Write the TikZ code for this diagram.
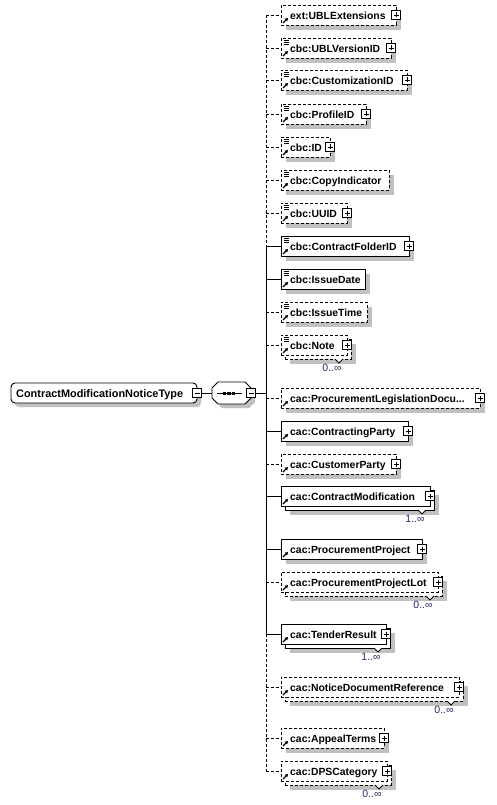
\documentclass[tikz,border=0pt]{standalone}
\usepackage{fontspec}
\setmainfont{Liberation Sans}
\usetikzlibrary{arrows.meta}
\definecolor{shadowgrey}{RGB}{192,192,192}
\definecolor{occblue}{RGB}{40,40,100}
\tikzset{
  boxst/.style={draw=black, fill=white, line width=0.9pt, inner sep=0pt, minimum height=20pt, anchor=west},
  dashst/.style={dash pattern=on 3pt off 2pt},
  conn/.style={draw=black, line width=0.9pt},
  lbl/.style={inner sep=0pt, font=\fontsize{10.4}{12}\selectfont\bfseries},
  occ/.style={inner sep=0pt, text=occblue, font=\fontsize{10.5}{12}\selectfont},
  pmbox/.style={draw=black, fill=white, line width=0.8pt, inner sep=0pt, minimum size=9pt},
  shd/.style={fill=shadowgrey},
  iconst/.style={line width=0.7pt},
  refarrow/.style={line width=1.1pt, -{Triangle[length=3pt,width=3.5pt]}},
  cur/.style={}
}
\begin{document}
\begin{tikzpicture}[x=1pt, y=-1pt]
\useasboundingbox (0,0) rectangle (497,805);

% root
\fill[shd, rounded corners=4pt] (15,387) rectangle (201,407);
\node[boxst, rounded corners=4pt, minimum width=186pt, anchor=center] (root) at (104,393) {};
\node[lbl, anchor=base west, font=\fontsize{10.9}{12}\selectfont\bfseries] (roottxt) at (16,397) {ContractModificationNoticeType};
\node[pmbox] (rm) at (197,393) {};
\draw[line width=0.8pt] (194.5,393) -- (199.5,393);

% sequence compositor
\fill[shd] (222,386) -- (249,386) -- (255,392) -- (255,402) -- (249,408) -- (222,408) -- (216,402) -- (216,392) -- cycle;
\node[minimum width=39pt, minimum height=22pt, inner sep=0pt] (seq) at (231.5,393) {};
\draw[line width=0.9pt, fill=white] (218,382) -- (245,382) -- (251,388) -- (251,398) -- (245,404) -- (218,404) -- (212,398) -- (212,388) -- cycle;
\draw[line width=0.9pt] (216.5,393) -- (241.5,393);
\fill (222.7,391.5) rectangle (226.3,394.5);
\fill (227.2,391.5) rectangle (230.8,394.5);
\fill (231.7,391.5) rectangle (235.3,394.5);
\node[pmbox] (sm) at (251,393) {};
\draw[line width=0.8pt] (248.5,393) -- (253.5,393);
\draw[conn] (rm.east) -- (seq.west);
\coordinate (sj) at (266,393);
\draw[conn] (sm.east) -- (sj);

% children
\foreach \n/\cy/\rx/\txt/\ds/\mul/\ic/\pl/\oc in {
 1/15/396/ext:UBLExtensions/1/0/0/1/-,
 2/48/391/cbc:UBLVersionID/1/0/1/1/-,
 3/80/407/cbc:CustomizationID/1/0/1/1/-,
 4/114/366/cbc:ProfileID/1/0/1/1/-,
 5/147/330/cbc:ID/1/0/1/1/-,
 6/180/389/cbc:CopyIndicator/1/0/1/0/-,
 7/213/347/cbc:UUID/1/0/1/1/-,
 8/246/409/cbc:ContractFolderID/0/0/1/1/-,
 9/279/365/cbc:IssueDate/0/0/1/0/-,
 10/312/367/cbc:IssueTime/1/0/1/0/-,
 11/345/347/cbc:Note/1/1/1/1/0..∞,
 12/398/480/cac:ProcurementLegislationDocu{.}{.}{.}/1/0/0/1/-,
 13/431/408/cac:ContractingParty/0/0/0/1/-,
 14/464/396/cac:CustomerParty/1/0/0/1/-,
 15/496/430/cac:ContractModification/0/1/0/1/1..∞,
 16/549/422/cac:ProcurementProject/0/0/0/1/-,
 17/582/438/cac:ProcurementProjectLot/1/1/0/1/0..∞,
 18/634/386/cac:TenderResult/0/1/0/1/1..∞,
 19/687/459/cac:NoticeDocumentReference/1/1/0/1/0..∞,
 20/738/384/cac:AppealTerms/1/0/0/1/-,
 21/771/387/cac:DPSCategory/1/1/0/1/0..∞}{
  \pgfmathsetmacro\bw{\rx-281}
  \ifnum\ds=1 \tikzset{cur/.style={dashst}}\else\tikzset{cur/.style={}}\fi
  \ifnum\mul=1
    \fill[shd] (290,\cy-1) rectangle (\rx+9,\cy+19);
    \node[boxst, cur, minimum width=\bw pt] (k\n) at (285,\cy+4) {};
  \else
    \fill[shd] (286,\cy-5) rectangle (\rx+5,\cy+15);
  \fi
  \node[boxst, cur, minimum width=\bw pt] (b\n) at (281,\cy) {};
  \ifnum\ic=1
    \draw[iconst] (283.5,\cy-8) -- ++(5,0) (283.5,\cy-6) -- ++(5,0) (283.5,\cy-4) -- ++(5,0);
  \fi
  \draw[refarrow] (283,\cy+8) -- (288,\cy+3);
  \node[lbl, anchor=base west] (t\n) at (290,\cy+4.5) {\txt};
  \ifnum\pl=1
    \node[pmbox] (p\n) at (\rx,\cy) {};
    \draw[line width=0.8pt] (\rx-2.5,\cy) -- (\rx+2.5,\cy) (\rx,\cy-2.5) -- (\rx,\cy+2.5);
  \fi
  \ifnum\mul=1
    \draw[line width=0.8pt, fill=white] (\rx-12,\cy+14) -- (\rx-8,\cy+18) -- (\rx-4,\cy+14);
    \node[occ, anchor=base] (o\n) at (\rx-15,\cy+26.5) {\oc};
  \fi
  \coordinate (s\n) at (266,\cy);
  \draw[conn, cur] (s\n) -- (b\n.west);
}

% spine
\draw[conn, dashst] (s1) -- (s8);
\draw[conn] (s8) -- (s18);
\draw[conn, dashst] (s18) -- (s21);
\end{tikzpicture}
\end{document}
